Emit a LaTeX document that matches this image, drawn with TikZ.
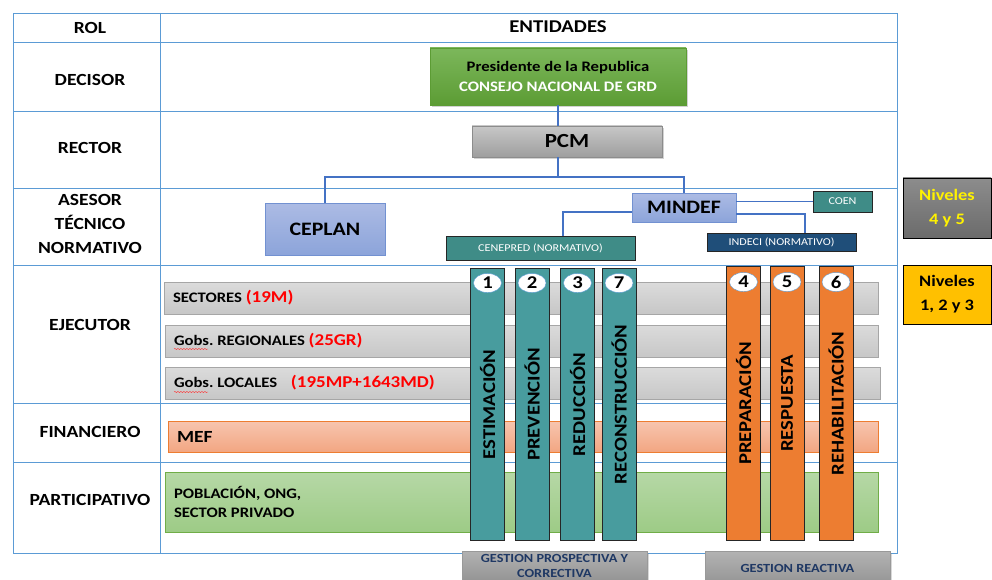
\documentclass[tikz,border=0pt]{standalone}
\usepackage{fontspec}
\setmainfont{Carlito}[FakeStretch=1.15]
\frenchspacing
\usetikzlibrary{shapes.geometric,shadows,decorations.pathmorphing}
\definecolor{rejilla}{RGB}{91,155,213}
\definecolor{enlace}{RGB}{68,114,196}
\definecolor{verdeA}{RGB}{124,183,91}
\definecolor{verdeB}{RGB}{92,156,52}
\definecolor{lilaA}{RGB}{172,187,228}
\definecolor{lilaB}{RGB}{140,164,218}
\definecolor{lilaborde}{RGB}{114,145,209}
\definecolor{petroleo}{RGB}{63,140,135}
\definecolor{columna}{RGB}{72,156,158}
\definecolor{azulosc}{RGB}{31,78,121}
\definecolor{naranja}{RGB}{237,125,49}
\definecolor{salmonA}{RGB}{247,197,175}
\definecolor{salmonB}{RGB}{242,166,130}
\definecolor{pastoA}{RGB}{182,216,166}
\definecolor{pastoB}{RGB}{157,203,134}
\definecolor{pastoborde}{RGB}{112,173,71}
\definecolor{ambar}{RGB}{255,192,0}
\definecolor{marino}{RGB}{31,56,100}
\tikzset{
  rol/.style={font=\bfseries\fontsize{17}{24}\selectfont,align=center},
  caja/.style={rectangle,inner sep=0pt,align=center},
  gris/.style={caja,draw=black!45,top color=black!22,bottom color=black!38,
    drop shadow={shadow xshift=2pt,shadow yshift=-2pt,opacity=.35}},
  lila/.style={caja,draw=lilaborde,top color=lilaA,bottom color=lilaB,
    font=\bfseries\fontsize{19}{22}\selectfont},
  norma/.style={caja,draw=black!85,text=white,font=\fontsize{10.5}{12}\selectfont},
  barra/.style={rectangle,inner sep=0pt,minimum width=714pt,minimum height=32pt,
    draw=black!35,top color=black!14,bottom color=black!22},
  rotulo/.style={anchor=west,inner sep=0pt,font=\bfseries\fontsize{14.5}{19}\selectfont,align=left},
  fase/.style={rectangle,draw=black!85,rotate=90,inner sep=0pt,minimum width=272pt,
    minimum height=34pt,font=\bfseries\fontsize{18}{20}\selectfont},
  num/.style={ellipse,draw=rejilla,fill=white,inner sep=0pt,minimum width=28pt,
    minimum height=19pt,font=\bfseries\fontsize{18}{20}\selectfont},
  nivel/.style={caja,draw=black,minimum width=88pt,minimum height=60pt,
    font=\bfseries\fontsize{16}{24}\selectfont},
  gestion/.style={caja,draw=black!40,top color=black!30,bottom color=black!42,
    minimum width=185pt,text=marino,font=\bfseries\fontsize{12.4}{15}\selectfont,
    drop shadow={shadow xshift=2pt,shadow yshift=-2pt,opacity=.3}},
  enl/.style={draw=enlace,line width=1.3pt}
}
\begin{document}
\begin{tikzpicture}[x=1pt,y=-1pt]
\useasboundingbox (0,0) rectangle (992,580);
\clip (0,0) rectangle (992,580);
\fill[white] (0,0) rectangle (992,580);
% tabla
\draw[rejilla] (13,13) rectangle (897,553);
\draw[rejilla] (160,13) -- (160,553);
\draw[rejilla] (13,42) -- (897,42);
\draw[rejilla] (13,111) -- (897,111);
\draw[rejilla] (13,188) -- (897,188);
\draw[rejilla] (13,265) -- (897,265);
\draw[rejilla] (13,403) -- (897,403);
\draw[rejilla] (13,462) -- (897,462);
% roles
\node[rol] (rol) at (90,28) {ROL};
\node[rol,font=\bfseries\fontsize{18}{20}\selectfont] (ent) at (558,27) {ENTIDADES};
\node[rol] (decisor) at (90,80) {DECISOR};
\node[rol] (rector) at (90,148) {RECTOR};
\node[rol] (asesor) at (90,224) {ASESOR\\TÉCNICO\\NORMATIVO};
\node[rol] (ejecutor) at (90,325) {EJECUTOR};
\node[rol] (financ) at (90,432) {FINANCIERO};
\node[rol] (partic) at (90,500) {PARTICIPATIVO};
% entidades
\node[caja,draw=verdeB,top color=verdeA,bottom color=verdeB,minimum width=256pt,
  minimum height=57pt,font=\bfseries\fontsize{14.5}{20}\selectfont,
  drop shadow={shadow xshift=2pt,shadow yshift=-2pt,opacity=.35}] (pres) at (558,76.5)
  {Presidente de la Republica\\\textcolor{white}{CONSEJO NACIONAL DE GRD}};
\node[gris,minimum width=190pt,minimum height=31pt,font=\bfseries\fontsize{20}{22}\selectfont]
  (pcm) at (567,141.5) {PCM};
\coordinate (bus) at (558,177);
\node[lila,minimum width=120pt,minimum height=52pt] (ceplan) at (325,229) {CEPLAN};
\node[lila,minimum width=104pt,minimum height=29pt] (mindef) at (684,207.5) {MINDEF};
\node[norma,fill=petroleo,minimum width=59pt,minimum height=21pt] (coen) at (842.5,201.5) {COEN};
\node[norma,fill=petroleo,minimum width=189pt,minimum height=24pt] (cenepred) at (540.5,248)
  {CENEPRED (NORMATIVO)};
\node[norma,fill=azulosc,minimum width=149pt,minimum height=18pt] (indeci) at (781.5,242)
  {INDECI (NORMATIVO)};
% enlaces
\draw[enl] (pres.south) -- (pres.south |- pcm.north);
\draw[enl] (pres.south |- pcm.south) -- (bus);
\draw[enl] (ceplan.north) |- (bus) -| (mindef.north);
\draw[enl] (coen.west -| mindef.east) -- (coen.west);
\draw[enl] ([yshift=-6.5pt]mindef.east) -| ([xshift=23.5pt]indeci.north);
\draw[enl] ([yshift=-4.5pt]mindef.west) -| ([xshift=22.5pt]cenepred.north);
% ejecutores
\node[barra] (sect) at (521,298) {};
\node[barra,minimum width=713pt] (greg) at (521.5,341) {};
\node[barra,minimum width=715pt] (gloc) at (522.5,383) {};
\node[barra,minimum width=710pt,minimum height=31pt,draw=naranja,top color=salmonA,
  bottom color=salmonB] (mef) at (523,436.5) {};
\node[barra,minimum width=713pt,minimum height=60pt,draw=pastoborde,top color=pastoA,
  bottom color=pastoB] (pobl) at (521.5,502) {};
\node[rotulo] (tsect) at ([xshift=9pt]sect.west) {SECTORES \textcolor{red}{\fontsize{16.5}{18}\selectfont(19M)}};
\node[rotulo] (tgreg) at ([xshift=9pt]greg.west) {Gobs. REGIONALES \textcolor{red}{\fontsize{16.5}{18}\selectfont(25GR)}};
\node[rotulo] (tgloc) at ([xshift=9pt]gloc.west) {Gobs. LOCALES\hspace{10pt} \textcolor{red}{\fontsize{16.5}{18}\selectfont(195MP+1643MD)}};
\node[rotulo,font=\bfseries\fontsize{17}{20}\selectfont] (tmef) at ([xshift=9pt]mef.west) {MEF};
\node[rotulo] (tpobl) at ([xshift=9pt]pobl.west) {POBLACIÓN, ONG,\\SECTOR PRIVADO};
\draw[red!80,decorate,decoration={snake,amplitude=.6pt,segment length=3pt}]
  (174,349) -- (208,349);
\draw[red!80,decorate,decoration={snake,amplitude=.6pt,segment length=3pt}]
  (174,392) -- (208,392);
% fases
\node[fase,fill=columna] (estim) at (487.5,404.5) {ESTIMACIÓN};
\node[fase,fill=columna] (preven) at (532,404.5) {PREVENCIÓN};
\node[fase,fill=columna] (reduc) at (577.5,404.5) {REDUCCIÓN};
\node[fase,fill=columna] (recons) at (619,404.5) {RECONSTRUCCIÓN};
\node[fase,fill=naranja,minimum width=274pt] (prepa) at (743.5,403.5) {PREPARACIÓN};
\node[fase,fill=naranja,minimum width=274pt] (resp) at (787,403.5) {RESPUESTA};
\node[fase,fill=naranja,minimum width=274pt] (rehab) at (836,403.5) {REHABILITACIÓN};
\node[num] (n1) at (487.5,283) {1};
\node[num] (n2) at (532,283) {2};
\node[num] (n3) at (577.5,283) {3};
\node[num] (n7) at (619,283) {7};
\node[num] (n4) at (743.5,282) {4};
\node[num] (n5) at (787,282) {5};
\node[num] (n6) at (836,282) {6};
% niveles
\node[nivel,top color=black!45,bottom color=black!58,text=yellow] (niv45) at (947,208) {Niveles\\4 y 5};
\node[nivel,fill=ambar,minimum height=59pt] (niv123) at (947,294.5) {Niveles\\1, 2 y 3};
% gestion
\node[gestion,minimum height=30pt] (gprosp) at (554.5,566) {GESTION PROSPECTIVA Y\\CORRECTIVA};
\node[gestion,minimum height=34pt] (greac) at (797.5,568) {GESTION REACTIVA};
\end{tikzpicture}
\end{document}
